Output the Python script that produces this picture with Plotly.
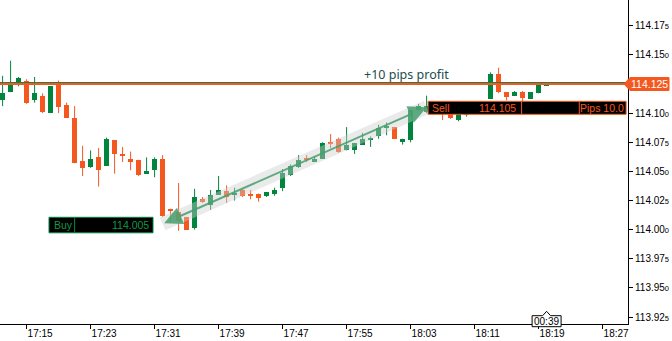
import pandas as pd
import plotly.graph_objects as go

# One-minute USDJPY candles, 17:12 .. 18:20
times = pd.date_range("2024-03-15 17:12", periods=69, freq="min")

opens = [114.111, 114.118, 114.126, 114.128, 114.111, 114.115, 114.100, 114.125,
         114.107, 114.096, 114.059, 114.054, 114.062, 114.055, 114.077, 114.065,
         114.061, 114.060, 114.048, 114.051, 114.061, 114.017, 114.015, 114.011,
         114.001, 114.026, 114.021, 114.030, 114.033, 114.030, 114.034, 114.030,
         114.031, 114.029, 114.031, 114.036, 114.047, 114.054, 114.061, 114.058,
         114.061, 114.075, 114.078, 114.068, 114.068, 114.073, 114.077, 114.080,
         114.088, 114.088, 114.075, 114.077, 114.103, 114.101, 114.108, 114.107,
         114.104, 114.094, 114.098, 114.101, 114.104, 114.112, 114.134, 114.118,
         114.115, 114.118, 114.112, 114.117, 114.124]
highs = [114.132, 114.145, 114.131, 114.129, 114.131, 114.117, 114.123, 114.128,
         114.109, 114.106, 114.072, 114.068, 114.070, 114.079, 114.077, 114.071,
         114.067, 114.060, 114.062, 114.062, 114.064, 114.018, 114.040, 114.011,
         114.035, 114.028, 114.034, 114.046, 114.038, 114.036, 114.035, 114.034,
         114.031, 114.032, 114.036, 114.052, 114.056, 114.064, 114.064, 114.063,
         114.075, 114.082, 114.079, 114.088, 114.074, 114.083, 114.080, 114.090,
         114.092, 114.088, 114.078, 114.103, 114.108, 114.115, 114.110, 114.108,
         114.105, 114.104, 114.104, 114.106, 114.110, 114.135, 114.139, 114.118,
         114.119, 114.119, 114.118, 114.125, 114.125]
lows = [114.106, 114.118, 114.123, 114.108, 114.109, 114.100, 114.100, 114.100,
        114.096, 114.057, 114.046, 114.053, 114.037, 114.055, 114.048, 114.058,
        114.051, 114.046, 114.048, 114.045, 114.011, 114.006, 113.999, 114.000,
        114.000, 114.023, 114.017, 114.030, 114.023, 114.025, 114.028, 114.026,
        114.024, 114.028, 114.029, 114.033, 114.046, 114.053, 114.058, 114.058,
        114.061, 114.070, 114.066, 114.068, 114.065, 114.073, 114.071, 114.078,
        114.081, 114.078, 114.073, 114.075, 114.102, 114.100, 114.101, 114.094,
        114.095, 114.093, 114.097, 114.099, 114.103, 114.112, 114.117, 114.111,
        114.115, 114.110, 114.112, 114.117, 114.124]
closes = [114.117, 114.125, 114.130, 114.109, 114.117, 114.101, 114.123, 114.105,
          114.096, 114.057, 114.053, 114.061, 114.051, 114.078, 114.065, 114.064,
          114.058, 114.047, 114.050, 114.061, 114.012, 114.016, 114.007, 114.000,
          114.028, 114.024, 114.030, 114.034, 114.028, 114.031, 114.029, 114.029,
          114.027, 114.032, 114.034, 114.049, 114.055, 114.060, 114.060, 114.061,
          114.074, 114.074, 114.067, 114.073, 114.074, 114.078, 114.079, 114.087,
          114.089, 114.078, 114.078, 114.103, 114.106, 114.106, 114.103, 114.100,
          114.096, 114.103, 114.103, 114.105, 114.108, 114.134, 114.118, 114.114,
          114.118, 114.113, 114.118, 114.124, 114.125]

# Trade
buy_time, buy_price = pd.Timestamp("2024-03-15 17:32"), 114.005
sell_time, sell_price = pd.Timestamp("2024-03-15 18:05"), 114.105
last_price = 114.125
countdown = "00:39"
pips = round((sell_price - buy_price) / 0.01, 1)

# Axis ticks (the one under the last-price tag is covered by it)
price_ticks = [113.925, 113.950, 113.975, 114.000, 114.025, 114.050,
               114.075, 114.100, 114.125, 114.150, 114.175]
shown_ticks = [v for v in price_ticks if abs(v - last_price) > 1e-9]

GREEN = "#00853e"
ORANGE = "#f4581f"
TEXT_GREEN = "#0f9a45"
FONT = "Liberation Sans"

fig = go.Figure()

# candle bodies and wicks, split by direction
for is_up, color in ((True, GREEN), (False, ORANGE)):
    idx = [i for i in range(len(times)) if (closes[i] >= opens[i]) == is_up]
    fig.add_trace(go.Bar(
        x=[times[i] for i in idx],
        base=[min(opens[i], closes[i]) for i in idx],
        y=[abs(closes[i] - opens[i]) for i in idx],
        width=37000,
        marker=dict(color=color, line=dict(width=0)),
        hoverinfo="skip",
    ))
    wx, wy = [], []
    for i in idx:
        wx += [times[i], times[i], None]
        wy += [lows[i], highs[i], None]
    fig.add_trace(go.Scatter(
        x=wx, y=wy, mode="lines",
        line=dict(color=color, width=1),
        hoverinfo="skip",
    ))

# soft highlight band under the trade arrow
fig.add_trace(go.Scatter(
    x=[buy_time, sell_time], y=[buy_price, sell_price], mode="lines",
    line=dict(color="rgba(205,205,205,0.42)", width=14),
    hoverinfo="skip",
))

def tick_label(v):
    s = f"{v:.3f}"
    return s[:-1] + f"<span style='font-size:7.5px'>{s[-1]}</span>"

shapes = [
    # last price lines
    dict(type="line", xref="paper", x0=0, x1=1, yref="y", y0=last_price, y1=last_price,
         line=dict(color=ORANGE, width=2), layer="above"),
    dict(type="line", xref="paper", x0=0, x1=1, yref="y", ysizemode="pixel",
         yanchor=last_price, y0=1.5, y1=1.5, line=dict(color="#2b7a45", width=1),
         layer="above"),
    # Buy box
    dict(type="rect", xref="x", xsizemode="pixel", xanchor=buy_time, x0=-113.6, x1=-9.6,
         yref="y", ysizemode="pixel", yanchor=buy_price, y0=-9, y1=6.5,
         fillcolor="black", line=dict(color=GREEN, width=1), layer="above"),
    dict(type="line", xref="x", xsizemode="pixel", xanchor=buy_time, x0=-88, x1=-88,
         yref="y", ysizemode="pixel", yanchor=buy_price, y0=-9, y1=6.5,
         line=dict(color=GREEN, width=1), layer="above"),
    # Sell box
    dict(type="rect", xref="x", xsizemode="pixel", xanchor=sell_time, x0=1.5, x1=199.5,
         yref="y", ysizemode="pixel", yanchor=sell_price, y0=-7, y1=6,
         fillcolor="black", line=dict(color=ORANGE, width=1), layer="above"),
    dict(type="line", xref="x", xsizemode="pixel", xanchor=sell_time, x0=95, x1=95,
         yref="y", ysizemode="pixel", yanchor=sell_price, y0=-7, y1=6,
         line=dict(color=ORANGE, width=1), layer="above"),
    dict(type="line", xref="x", xsizemode="pixel", xanchor=sell_time, x0=152.7, x1=152.7,
         yref="y", ysizemode="pixel", yanchor=sell_price, y0=-7, y1=6,
         line=dict(color=ORANGE, width=1), layer="above"),
    # last price tag on the axis
    dict(type="path", xref="paper", xsizemode="pixel", xanchor=1,
         yref="y", ysizemode="pixel", yanchor=last_price,
         path="M -4,0 L 2,6.5 L 41,6.5 L 41,-6.5 L 2,-6.5 Z",
         fillcolor=ORANGE, line=dict(color=ORANGE, width=1), layer="above"),
    # countdown callout
    dict(type="path", xref="x", xsizemode="pixel", xanchor=times[-1],
         yref="paper", ysizemode="pixel", yanchor=0,
         path="M -14.5,-2.7 L -14.5,8.3 L -4,8.3 L 0,12.7 L 4,8.3 L 14.5,8.3 L 14.5,-2.7 Z",
         fillcolor="white", line=dict(color="black", width=1), layer="above"),
]

annotations = [
    # trade arrow
    dict(x=sell_time, y=sell_price, ax=buy_time, ay=buy_price, axref="x", ayref="y",
         xref="x", yref="y", text="", showarrow=True, arrowside="end+start",
         arrowhead=2, arrowsize=1.8, arrowwidth=2, arrowcolor="rgba(70,160,110,0.85)",
         standoff=0, startstandoff=0),
    dict(x=buy_time, y=buy_price, xshift=-111, yshift=-1, xanchor="left", text="Buy",
         showarrow=False, font=dict(family=FONT, size=10.5, color=TEXT_GREEN)),
    dict(x=buy_time, y=buy_price, xshift=-11.5, yshift=-1, xanchor="right",
         text=f"{buy_price:.3f}", showarrow=False,
         font=dict(family=FONT, size=10.5, color=TEXT_GREEN)),
    dict(x=sell_time, y=sell_price, xshift=3, yshift=-0.5, xanchor="left", text="Sell",
         showarrow=False, font=dict(family=FONT, size=10.5, color=ORANGE)),
    dict(x=sell_time, y=sell_price, xshift=91, yshift=-0.5, xanchor="right",
         text=f"{sell_price:.3f}", showarrow=False,
         font=dict(family=FONT, size=10.5, color=ORANGE)),
    dict(x=sell_time, y=sell_price, xshift=199, yshift=-0.5, xanchor="right",
         text=f"Pips {pips:.1f}", showarrow=False,
         font=dict(family=FONT, size=10.5, color=ORANGE)),
    dict(x=sell_time, y=last_price, xshift=-20, yshift=10, xanchor="center",
         text=f"+{pips:.0f} pips profit", showarrow=False,
         font=dict(family="Noto Sans", size=12.5, color="#1d4d50")),
    dict(xref="paper", x=1, xshift=21.5, y=last_price, yshift=0, xanchor="center",
         text=f"{last_price:.3f}", showarrow=False,
         font=dict(family=FONT, size=10.5, color="white")),
    dict(x=times[-1], yref="paper", y=0, yshift=3, xanchor="center", yanchor="middle",
         text=countdown, showarrow=False,
         font=dict(family=FONT, size=10, color="black")),
]

fig.update_layout(
    width=672, height=341,
    margin=dict(l=0, r=44, t=0, b=17),
    paper_bgcolor="white", plot_bgcolor="white",
    showlegend=False, barmode="overlay", bargap=0,
    font=dict(family=FONT, size=10, color="black"),
    shapes=shapes, annotations=annotations,
    xaxis=dict(
        type="date",
        range=["2024-03-15 17:11:40.5", "2024-03-15 18:30:10.5"],
        tick0="2024-03-15 17:15", dtick=8 * 60 * 1000, tickformat="%H:%M",
        ticks="outside", ticklen=4, tickcolor="black",
        ticklabelposition="outside right",
        showline=True, linecolor="black", linewidth=1,
        showgrid=False, zeroline=False, fixedrange=True,
        tickfont=dict(family=FONT, size=10, color="black"),
    ),
    yaxis=dict(
        side="right",
        range=[113.919, 114.1971],
        tickvals=shown_ticks, ticktext=[tick_label(v) for v in shown_ticks],
        ticks="outside", ticklen=4, tickcolor="black",
        showline=True, linecolor="black", linewidth=1,
        showgrid=False, zeroline=False, fixedrange=True,
        tickfont=dict(family=FONT, size=10, color="black"),
    ),
)

fig.write_html("out.html")
